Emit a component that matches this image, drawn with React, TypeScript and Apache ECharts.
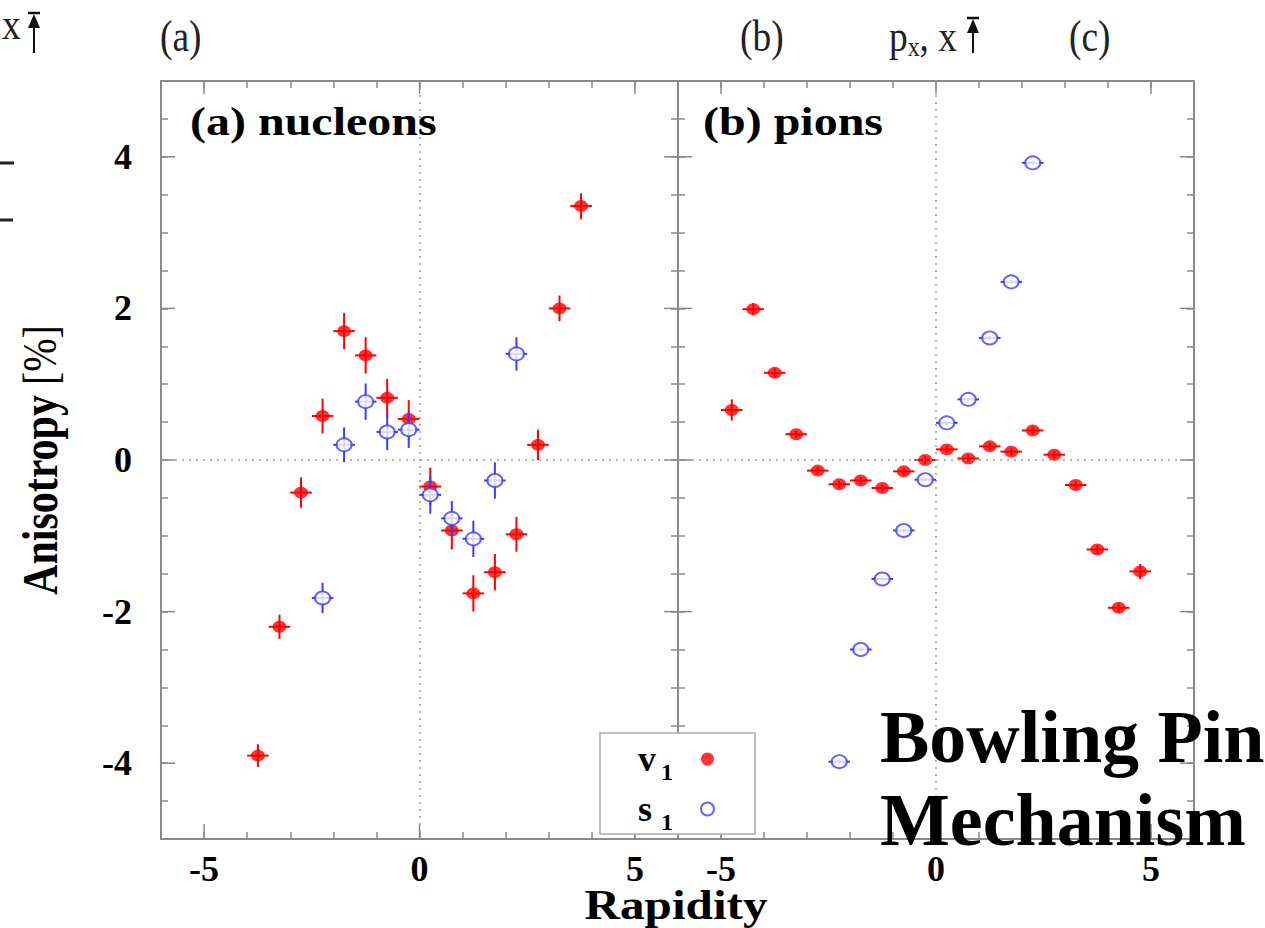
import React, { useEffect, useRef } from "react";
import * as echarts from "echarts";

// ---- axis ticks / labels ----
const X_MIN = -6;
const X_MAX = 6;
const Y_MIN = -5;
const Y_MAX = 5;
const xLabelValues = [-5, 0, 5];
const yLabelValues = [-4, -2, 0, 2, 4];

// horizontal (rapidity bin) half-width of every point
const X_ERR = 0.25;

// ---- (a) nucleons ----
const nucV1X = [-3.75, -3.25, -2.75, -2.25, -1.75, -1.25, -0.75, -0.25, 0.25, 0.75, 1.25, 1.75, 2.25, 2.75, 3.25, 3.75];
const nucV1Y = [-3.9, -2.2, -0.43, 0.58, 1.7, 1.38, 0.82, 0.54, -0.35, -0.93, -1.76, -1.48, -0.98, 0.2, 2.0, 3.35];
const nucV1Err = [0.15, 0.16, 0.2, 0.23, 0.24, 0.24, 0.25, 0.25, 0.25, 0.25, 0.24, 0.24, 0.23, 0.2, 0.17, 0.17];

const nucS1X = [-2.25, -1.75, -1.25, -0.75, -0.25, 0.25, 0.75, 1.25, 1.75, 2.25];
const nucS1Y = [-1.82, 0.2, 0.77, 0.37, 0.4, -0.46, -0.77, -1.04, -0.27, 1.4];
const nucS1Err = [0.2, 0.23, 0.24, 0.24, 0.24, 0.25, 0.23, 0.24, 0.24, 0.22];

// ---- (b) pions ----
const pioV1X = [-4.75, -4.25, -3.75, -3.25, -2.75, -2.25, -1.75, -1.25, -0.75, -0.25, 0.25, 0.75, 1.25, 1.75, 2.25, 2.75, 3.25, 3.75, 4.25, 4.75];
const pioV1Y = [0.66, 1.99, 1.15, 0.34, -0.14, -0.32, -0.27, -0.37, -0.15, 0.0, 0.14, 0.02, 0.18, 0.11, 0.39, 0.07, -0.33, -1.18, -1.95, -1.47];
const pioV1Err = [0.14, 0.08, 0.06, 0.05, 0.05, 0.05, 0.05, 0.05, 0.05, 0.05, 0.05, 0.05, 0.05, 0.05, 0.05, 0.05, 0.05, 0.06, 0.06, 0.1];

const pioS1X = [-2.25, -1.75, -1.25, -0.75, -0.25, 0.25, 0.75, 1.25, 1.75, 2.25];
const pioS1Y = [-3.98, -2.5, -1.57, -0.93, -0.26, 0.49, 0.8, 1.61, 2.35, 3.92];
const pioS1Err = [0.03, 0.03, 0.03, 0.03, 0.03, 0.03, 0.03, 0.03, 0.03, 0.03];

const SERIF = "'Liberation Serif', 'Times New Roman', serif";
const RED = "#ff0000";
const BLUE = "#3c3cff";
const AXIS = "#8a8a8a";

const ptData = (xs: number[], ys: number[]) => xs.map((x, i) => [x, ys[i]]);
const errData = (xs: number[], ys: number[], es: number[]) => xs.map((x, i) => [x, ys[i], es[i], X_ERR]);

const errRender = (color: string) => (_p: any, api: any) => {
  const x = api.value(0);
  const y = api.value(1);
  const ye = api.value(2);
  const xe = api.value(3);
  const a = api.coord([x, y - ye]);
  const b = api.coord([x, y + ye]);
  const c = api.coord([x - xe, y]);
  const d = api.coord([x + xe, y]);
  return {
    type: "group",
    children: [
      { type: "line", shape: { x1: a[0], y1: a[1], x2: b[0], y2: b[1] }, style: { stroke: color, lineWidth: 2 } },
      { type: "line", shape: { x1: c[0], y1: c[1], x2: d[0], y2: d[1] }, style: { stroke: color, lineWidth: 2 } },
    ],
  };
};

// long (major) ticks on all four sides, drawn through the axes' scales
const majorXRender = (_p: any, api: any) => {
  const v = api.value(0);
  const b = api.coord([v, Y_MIN]);
  const t = api.coord([v, Y_MAX]);
  return {
    type: "group",
    children: [
      { type: "line", shape: { x1: b[0], y1: b[1], x2: b[0], y2: b[1] - 15 }, style: { stroke: AXIS, lineWidth: 1.5 } },
      { type: "line", shape: { x1: t[0], y1: t[1], x2: t[0], y2: t[1] + 13 }, style: { stroke: AXIS, lineWidth: 1.5 } },
    ],
  };
};
const majorYRender = (_p: any, api: any) => {
  const v = api.value(1);
  const l = api.coord([X_MIN, v]);
  const r = api.coord([X_MAX, v]);
  return {
    type: "group",
    children: [
      { type: "line", shape: { x1: l[0], y1: l[1], x2: l[0] + 14, y2: l[1] }, style: { stroke: AXIS, lineWidth: 1.5 } },
      { type: "line", shape: { x1: r[0], y1: r[1], x2: r[0] - 14, y2: r[1] }, style: { stroke: AXIS, lineWidth: 1.5 } },
    ],
  };
};

const labelFont = { color: "#000", fontFamily: SERIF, fontWeight: "bold", fontSize: 36 };

const mkX = (grid: number, pos: string, showLabel: boolean) => ({
  type: "value",
  gridIndex: grid,
  position: pos,
  min: X_MIN,
  max: X_MAX,
  interval: 1,
  axisLine: { show: true, onZero: false, lineStyle: { color: AXIS, width: 2 } },
  axisTick: { show: true, inside: true, length: 7, lineStyle: { color: AXIS, width: 1.5 } },
  axisLabel: {
    show: showLabel,
    margin: 12,
    ...labelFont,
    formatter: (v: number) => (xLabelValues.some((t) => Math.abs(t - v) < 1e-6) ? String(Math.round(v)) : ""),
  },
  splitLine: { show: false },
});

const mkY = (grid: number, pos: string, showLabel: boolean) => ({
  type: "value",
  gridIndex: grid,
  position: pos,
  min: Y_MIN,
  max: Y_MAX,
  interval: 0.5,
  axisLine: { show: true, onZero: false, lineStyle: { color: AXIS, width: 2 } },
  axisTick: { show: true, inside: true, length: 7, lineStyle: { color: AXIS, width: 1.5 } },
  axisLabel: {
    show: showLabel,
    margin: 29,
    ...labelFont,
    formatter: (v: number) => (yLabelValues.some((t) => Math.abs(t - v) < 1e-6) ? String(Math.round(v)) : ""),
  },
  splitLine: { show: false },
});

const zeroLines = (xi: number, yi: number) => ({
  type: "scatter",
  name: "zero",
  xAxisIndex: xi,
  yAxisIndex: yi,
  data: [],
  silent: true,
  z: 1,
  markLine: {
    silent: true,
    symbol: ["none", "none"],
    label: { show: false },
    lineStyle: { color: "#9a9a9a", type: [2, 5], width: 1.5 },
    data: [{ xAxis: 0 }, { yAxis: 0 }],
  },
});

const panelSeries = (xi: number, yi: number, v1: any[], v1e: any[], s1: any[], s1e: any[]) => [
  zeroLines(xi, yi),
  {
    type: "custom",
    name: "majorX",
    xAxisIndex: xi,
    yAxisIndex: yi,
    silent: true,
    z: 1,
    renderItem: majorXRender,
    encode: { x: 0, y: 1 },
    data: xLabelValues.map((v) => [v, 0]),
  },
  {
    type: "custom",
    name: "majorY",
    xAxisIndex: xi,
    yAxisIndex: yi,
    silent: true,
    z: 1,
    renderItem: majorYRender,
    encode: { x: 0, y: 1 },
    data: yLabelValues.map((v) => [0, v]),
  },
  {
    type: "custom",
    name: "v1 err",
    xAxisIndex: xi,
    yAxisIndex: yi,
    silent: true,
    z: 3,
    renderItem: errRender(RED),
    encode: { x: 0, y: 1 },
    data: v1e,
  },
  {
    type: "scatter",
    name: "v1",
    xAxisIndex: xi,
    yAxisIndex: yi,
    silent: true,
    z: 4,
    symbol: "circle",
    symbolSize: [14, 12],
    itemStyle: { color: RED },
    data: v1,
  },
  {
    type: "custom",
    name: "s1 err",
    xAxisIndex: xi,
    yAxisIndex: yi,
    silent: true,
    z: 5,
    renderItem: errRender(BLUE),
    encode: { x: 0, y: 1 },
    data: s1e,
  },
  {
    type: "scatter",
    name: "s1",
    xAxisIndex: xi,
    yAxisIndex: yi,
    silent: true,
    z: 6,
    symbol: "circle",
    symbolSize: [15, 13],
    itemStyle: { color: "#ffffff", borderColor: BLUE, borderWidth: 2 },
    data: s1,
  },
];

const upArrow = (cx: number, top: number, bottom: number) => [
  { type: "line", shape: { x1: cx - 6, y1: top, x2: cx + 6, y2: top }, style: { stroke: "#111", lineWidth: 2.5 } },
  { type: "polygon", shape: { points: [[cx, top + 1], [cx - 6, top + 15], [cx + 6, top + 15]] }, style: { fill: "#111" } },
  { type: "line", shape: { x1: cx, y1: top + 14, x2: cx, y2: bottom }, style: { stroke: "#111", lineWidth: 2 } },
];

const headText = (x: number, y: number, text: string) => ({
  type: "text",
  x,
  y,
  scaleX: 0.85,
  style: { text, fontFamily: SERIF, fontSize: 44, fill: "#222", align: "left", verticalAlign: "middle" },
});

export default function App() {
  const ref = useRef<HTMLDivElement>(null);

  useEffect(() => {
    if (!ref.current) return;
    const chart = echarts.init(ref.current, undefined, { renderer: "svg" });
    const option: any = {
      animation: false,
      backgroundColor: "#fff",
      grid: [
        { left: 161, top: 81, width: 517, height: 758 },
        { left: 678, top: 81, width: 516, height: 758 },
      ],
      xAxis: [mkX(0, "bottom", true), mkX(0, "top", false), mkX(1, "bottom", true), mkX(1, "top", false)],
      yAxis: [mkY(0, "left", true), mkY(0, "right", false), mkY(1, "left", false), mkY(1, "right", false)],
      legend: {
        show: true,
        orient: "vertical",
        left: 600,
        top: 733,
        align: "right",
        padding: [1, 40, 0, 38],
        itemGap: 0,
        itemWidth: 13,
        itemHeight: 13,
        backgroundColor: "#fff",
        borderColor: "#aaa",
        borderWidth: 1.5,
        selectedMode: false,
        data: [
          { name: "v1", icon: "circle" },
          { name: "s1", icon: "circle" },
        ],
        formatter: (n: string) => (n === "v1" ? "{m|v}{s|1}" : "{m|s}{s|1}"),
        textStyle: {
          rich: {
            m: { fontFamily: SERIF, fontWeight: "bold", fontSize: 36, lineHeight: 30, width: 23, align: "left", color: "#000" },
            s: { fontFamily: SERIF, fontWeight: "bold", fontSize: 24, lineHeight: 16, width: 35, align: "left", padding: [26, 0, 0, 0], color: "#000" },
          },
        },
      },
      series: [
        ...panelSeries(0, 0, ptData(nucV1X, nucV1Y), errData(nucV1X, nucV1Y, nucV1Err), ptData(nucS1X, nucS1Y), errData(nucS1X, nucS1Y, nucS1Err)),
        ...panelSeries(2, 2, ptData(pioV1X, pioV1Y), errData(pioV1X, pioV1Y, pioV1Err), ptData(pioS1X, pioS1Y), errData(pioS1X, pioS1Y, pioS1Err)),
      ],
      graphic: [
        // panel titles
        {
          type: "text", x: 190, y: 122, scaleX: 1.2, z: 10,
          style: { text: "(a) nucleons", fontFamily: SERIF, fontWeight: "bold", fontSize: 40, fill: "#000", align: "left", verticalAlign: "middle" },
        },
        {
          type: "text", x: 703, y: 122, scaleX: 1.2, z: 10,
          style: { text: "(b) pions", fontFamily: SERIF, fontWeight: "bold", fontSize: 40, fill: "#000", align: "left", verticalAlign: "middle" },
        },
        // axis titles
        {
          type: "text", x: 676, y: 905, scaleX: 1.17, z: 10,
          style: { text: "Rapidity", fontFamily: SERIF, fontWeight: "bold", fontSize: 42, fill: "#000", align: "center", verticalAlign: "middle" },
        },
        {
          type: "text", x: 40, y: 460, rotation: Math.PI / 2, scaleY: 1.2, z: 10,
          style: {
            text: "{b|Anisotropy}{r| [%]}",
            align: "center",
            verticalAlign: "middle",
            fill: "#000",
            rich: {
              b: { fontFamily: SERIF, fontWeight: "bold", fontSize: 42, fill: "#000" },
              r: { fontFamily: SERIF, fontWeight: "normal", fontSize: 40, fill: "#000" },
            },
          },
        },
        // overlay caption
        {
          type: "text", x: 880, y: 737, z: 20,
          style: { text: "Bowling Pin", fontFamily: SERIF, fontWeight: "bold", fontSize: 74, fill: "#000", align: "left", verticalAlign: "middle" },
        },
        {
          type: "text", x: 880, y: 820, z: 20,
          style: { text: "Mechanism", fontFamily: SERIF, fontWeight: "bold", fontSize: 74, fill: "#000", align: "left", verticalAlign: "middle" },
        },
        // header fragments
        headText(2, 24, "x"),
        headText(160, 36, "(a)"),
        headText(740, 36, "(b)"),
        {
          type: "text", x: 889, y: 36, scaleX: 0.85,
          style: {
            text: "{p|p}{s|x}{p|, x}",
            align: "left",
            verticalAlign: "middle",
            rich: {
              p: { fontFamily: SERIF, fontSize: 44, fill: "#222" },
              s: { fontFamily: SERIF, fontSize: 28, fill: "#222", padding: [22, 0, 0, 0] },
            },
          },
        },
        headText(1069, 36, "(c)"),
        ...upArrow(34, 13, 53),
        ...upArrow(973, 18, 53),
        // stray marks at the left edge
        { type: "line", shape: { x1: 0, y1: 163, x2: 14, y2: 163 }, style: { stroke: "#222", lineWidth: 3 } },
        { type: "line", shape: { x1: 0, y1: 220, x2: 13, y2: 220 }, style: { stroke: "#222", lineWidth: 3 } },
      ],
    };
    chart.setOption(option);
    return () => chart.dispose();
  }, []);

  return <div ref={ref} style={{ position: "absolute", left: 0, top: 0, width: 1265, height: 928 }} />;
}
